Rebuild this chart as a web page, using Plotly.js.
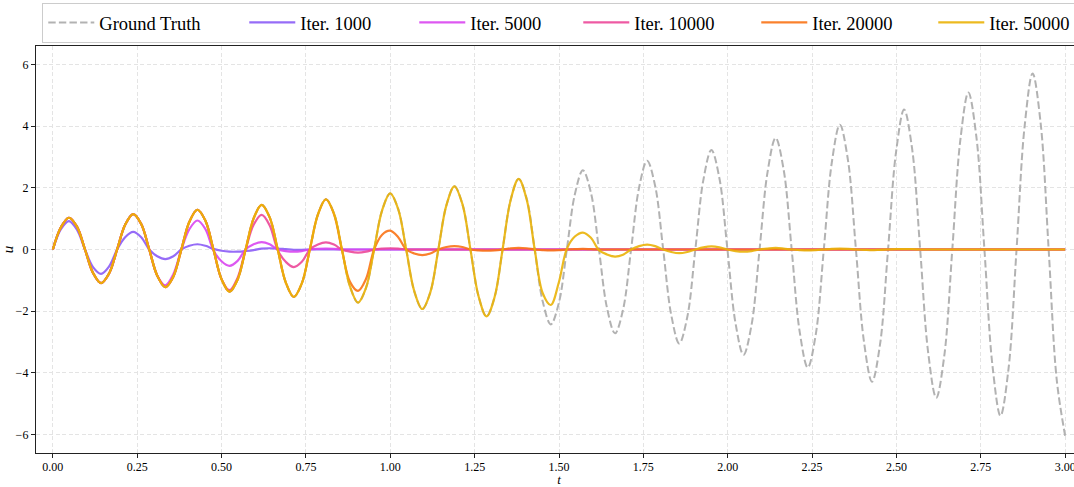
<!DOCTYPE html>
<html>
<head>
<meta charset="utf-8">
<script src="https://cdn.plot.ly/plotly-3.0.1.min.js"></script>
<style>
  html, body { margin: 0; padding: 0; overflow: hidden; background: #ffffff; }
  #chart { width: 1090px; height: 487px; }
</style>
</head>
<body>
<div id="chart"></div>
<script>
// time samples (t)
const t = [
  0,0.0238,0.0476,0.0714,0.0952,0.119,0.1428,0.1666,
  0.1904,0.2142,0.238,0.2618,0.2856,0.3094,0.3332,0.357,
  0.3808,0.4046,0.4284,0.4522,0.476,0.4998,0.5236,0.5474,
  0.5712,0.595,0.6188,0.6426,0.6664,0.6902,0.714,0.7378,
  0.7616,0.7854,0.8092,0.833,0.8568,0.8806,0.9044,0.9282,
  0.952,0.9758,0.9996,1.0234,1.0472,1.071,1.0948,1.1186,
  1.1424,1.1662,1.19,1.2138,1.2376,1.2614,1.2852,1.309,
  1.3328,1.3566,1.3804,1.4042,1.428,1.4518,1.4756,1.4994,
  1.5232,1.547,1.5708,1.5946,1.6184,1.6422,1.666,1.6898,
  1.7136,1.7374,1.7612,1.785,1.8088,1.8326,1.8564,1.8802,
  1.904,1.9278,1.9516,1.9754,1.9992,2.023,2.0468,2.0706,
  2.0944,2.1182,2.142,2.1658,2.1896,2.2134,2.2372,2.261,
  2.2848,2.3086,2.3324,2.3562,2.38,2.4038,2.4276,2.4514,
  2.4752,2.499,2.5228,2.5466,2.5704,2.5942,2.618,2.6418,
  2.6656,2.6894,2.7132,2.737,2.7608,2.7846,2.8084,2.8322,
  2.856,2.8798,2.9036,2.9274,2.9512,2.975,3.0
];

// Ground truth u(t)
const groundTruth = [
  0,0.72,1.03,0.74,0,-0.76,-1.09,-0.78,
  0,0.80,1.15,0.83,0,-0.85,-1.22,-0.88,
  0,0.90,1.29,0.93,0,-0.96,-1.37,-0.98,
  0,1.01,1.45,1.04,0,-1.07,-1.54,-1.10,
  0,1.13,1.63,1.17,0,-1.20,-1.72,-1.24,
  0,1.27,1.82,1.31,0,-1.35,-1.93,-1.39,
  0,1.43,2.05,1.47,0,-1.51,-2.17,-1.55,
  0,1.60,2.29,1.65,0,-1.69,-2.43,-1.74,
  0,1.79,2.57,1.84,0,-1.89,-2.72,-1.95,
  0,2.01,2.88,2.06,0,-2.12,-3.05,-2.19,
  0,2.25,3.23,2.31,0,-2.38,-3.42,-2.45,
  0,2.52,3.62,2.59,0,-2.67,-3.83,-2.75,
  0,2.83,4.05,2.91,0,-2.99,-4.29,-3.08,
  0,3.17,4.54,3.26,0,-3.35,-4.81,-3.45,
  0,3.55,5.09,3.65,0,-3.76,-5.39,-3.87,
  0,3.98,5.71,4.10,0,-4.21,-6.04
];

// Iteration 1000 prediction
const iter1000 = [
  0,0.66,0.92,0.64,0,-0.57,-0.79,-0.55,
  0,0.40,0.57,0.40,0,-0.22,-0.31,-0.22,
  0,0.12,0.17,0.12,0.02,-0.04,-0.07,-0.07,
  -0.05,-0.02,0.03,0.04,0.03,0.01,-0.01,-0.01,
  0,0,0,0,0,0,0,0,
  0,0,0,0,0,0,0,0,
  0,0,0,0,0,0,0,0,
  0,0,0,0,0,0,0,0,
  0,0,0,0,0,0,0,0,
  0,0,0,0,0,0,0,0,
  0,0,0,0,0,0,0,0,
  0,0,0,0,0,0,0,0,
  0,0,0,0,0,0,0,0,
  0,0,0,0,0,0,0,0,
  0,0,0,0,0,0,0,0,
  0,0,0,0,0,0,0
];

// Iteration 5000 prediction
const iter5000 = [
  0,0.72,1.03,0.74,0,-0.76,-1.09,-0.78,
  0,0.80,1.15,0.83,0,-0.84,-1.16,-0.80,
  0,0.66,0.94,0.66,-0.03,-0.38,-0.53,-0.37,
  0,0.17,0.24,0.17,0,-0.05,-0.07,-0.05,
  0,0.02,0.03,0.02,0,0,0,0,
  0,0,0,0,0,0,0,0,
  0,0,0,0,0,0,0,0,
  0,0,0,0,0,0,0,0,
  0,0,0,0,0,0,0,0,
  0,0,0,0,0,0,0,0,
  0,0,0,0,0,0,0,0,
  0,0,0,0,0,0,0,0,
  0,0,0,0,0,0,0,0,
  0,0,0,0,0,0,0,0,
  0,0,0,0,0,0,0,0,
  0,0,0,0,0,0,0
];

// Iteration 10000 prediction
const iter10000 = [
  0,0.72,1.03,0.74,0,-0.76,-1.09,-0.78,
  0,0.80,1.15,0.83,0,-0.85,-1.22,-0.88,
  0,0.90,1.29,0.93,0,-0.96,-1.32,-0.92,
  -0.01,0.80,1.12,0.78,-0.02,-0.40,-0.57,-0.40,
  0,0.16,0.23,0.16,0,-0.07,-0.10,-0.07,
  0,0.03,0.04,0.03,0,0,0,0,
  0,0,0,0,0,0,0,0,
  0,0,0,0,0,0,0,0,
  0,0,0,0,0,0,0,0,
  0,0,0,0,0,0,0,0,
  0,0,0,0,0,0,0,0,
  0,0,0,0,0,0,0,0,
  0,0,0,0,0,0,0,0,
  0,0,0,0,0,0,0,0,
  0,0,0,0,0,0,0,0,
  0,0,0,0,0,0,0
];

// Iteration 20000 prediction
const iter20000 = [
  0,0.72,1.03,0.74,0,-0.76,-1.09,-0.78,
  0,0.80,1.15,0.83,0,-0.85,-1.22,-0.88,
  0,0.90,1.29,0.93,0,-0.96,-1.37,-0.98,
  0,1.01,1.45,1.04,0,-1.07,-1.54,-1.10,
  0,1.13,1.63,1.15,-0.02,-1.05,-1.34,-0.95,
  0,0.48,0.61,0.40,0,-0.13,-0.18,-0.13,
  0,0.08,0.11,0.08,0,-0.03,-0.04,-0.03,
  0,0.04,0.05,0.04,0,-0.02,-0.03,-0.02,
  0,0.01,0.02,0.01,0,0,0,0,
  0,0,0,0,0,0,0,0,
  0,0,0,0,0,0,0,0,
  0,0,0,0,0,0,0,0,
  0,0,0,0,0,0,0,0,
  0,0,0,0,0,0,0,0,
  0,0,0,0,0,0,0,0,
  0,0,0,0,0,0,0
];

// Iteration 50000 prediction
const iter50000 = [
  0,0.72,1.03,0.74,0,-0.76,-1.09,-0.78,
  0,0.80,1.15,0.83,0,-0.85,-1.22,-0.88,
  0,0.90,1.29,0.93,0,-0.96,-1.37,-0.98,
  0,1.01,1.45,1.04,0,-1.07,-1.54,-1.10,
  0,1.13,1.63,1.17,0,-1.20,-1.72,-1.24,
  0,1.27,1.82,1.31,0,-1.35,-1.93,-1.39,
  0,1.43,2.05,1.47,0,-1.51,-2.17,-1.55,
  0,1.60,2.29,1.62,0,-1.42,-1.80,-1.07,
  0.02,0.42,0.55,0.38,-0.02,-0.16,-0.23,-0.17,
  0,0.11,0.16,0.11,0,-0.08,-0.12,-0.08,
  0,0.07,0.10,0.07,0,-0.05,-0.07,-0.05,
  0,0.03,0.05,0.03,0,-0.02,-0.03,-0.02,
  0,0.02,0.03,0.02,0,-0.01,-0.02,-0.01,
  0,0.01,0.01,0.01,0,0,0,0,
  0,0,0,0,0,0,0,0,
  0,0,0,0,0,0,0
];

const seriesNames = ['Ground Truth','Iter. 1000','Iter. 5000','Iter. 10000','Iter. 20000','Iter. 50000'];
const seriesValues = [groundTruth, iter1000, iter5000, iter10000, iter20000, iter50000];
const seriesColors = ['#aaaaaa','#8b5cf6','#d946ef','#ec4899','#f97316','#eab308'];
const legendWidths = [140, 109, 103, 117, 116, 85];

const FONT = 'Liberation Serif, Times New Roman, serif';

const traces = seriesNames.map((name, i) => ({
  type: 'scatter',
  mode: 'lines',
  name: name,
  x: t,
  y: seriesValues[i],
  line: {
    color: seriesColors[i],
    width: i === 0 ? 2 : 2.2,
    dash: i === 0 ? '7.4px,3.2px' : 'solid',
    shape: 'spline',
    smoothing: 1
  },
  opacity: 0.9,
  legendwidth: legendWidths[i],
  hoverinfo: 'skip'
}));

const layout = {
  width: 1090,
  height: 487,
  margin: { l: 36, r: 8, t: 46, b: 34, pad: 0 },
  paper_bgcolor: '#ffffff',
  plot_bgcolor: '#ffffff',
  font: { family: FONT, size: 12, color: '#000000' },
  showlegend: true,
  legend: {
    orientation: 'h',
    xref: 'paper',
    x: 0.006,
    xanchor: 'left',
    yref: 'container',
    y: 0.994,
    yanchor: 'top',
    font: { family: FONT, size: 18.5, color: '#000000' },
    bgcolor: '#ffffff',
    bordercolor: '#cccccc',
    borderwidth: 1,
    itemwidth: 46
  },
  xaxis: {
    range: [-0.05, 3.05],
    tickvals: [0, 0.25, 0.5, 0.75, 1.0, 1.25, 1.5, 1.75, 2.0, 2.25, 2.5, 2.75, 3.0],
    tickformat: '.2f',
    ticks: 'outside',
    ticklen: 4,
    tickwidth: 1,
    tickcolor: '#222222',
    ticklabelstandoff: -2,
    showline: true,
    linecolor: '#222222',
    linewidth: 1.2,
    mirror: true,
    showgrid: true,
    gridcolor: '#e4e4e4',
    gridwidth: 1,
    griddash: '4px,2.5px',
    zeroline: false,
    automargin: false,
    tickfont: { family: FONT, size: 12, color: '#000000' },
    title: { text: '<i>t</i>', font: { family: FONT, size: 13, color: '#000000' }, standoff: 16 }
  },
  yaxis: {
    range: [-6.6, 6.6],
    tickvals: [-6, -4, -2, 0, 2, 4, 6],
    ticks: 'outside',
    ticklen: 4,
    tickwidth: 1,
    tickcolor: '#222222',
    showline: true,
    linecolor: '#222222',
    linewidth: 1.2,
    mirror: true,
    showgrid: true,
    gridcolor: '#e4e4e4',
    gridwidth: 1,
    griddash: '4px,2.5px',
    zeroline: false,
    automargin: false,
    tickfont: { family: FONT, size: 12, color: '#000000' },
    title: { text: '<i>u</i>', font: { family: FONT, size: 15, color: '#000000' }, standoff: 2 }
  }
};

Plotly.newPlot('chart', traces, layout, { displayModeBar: false, staticPlot: true });
</script>
</body>
</html>
